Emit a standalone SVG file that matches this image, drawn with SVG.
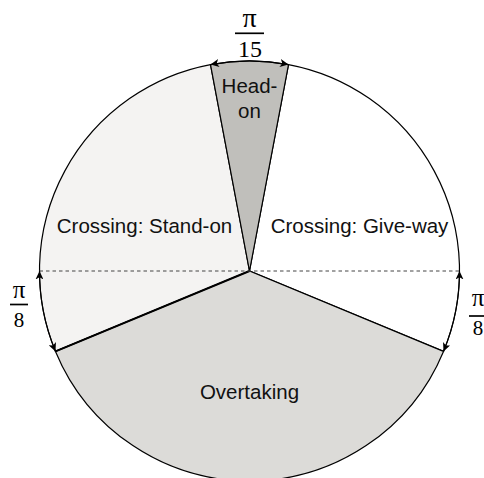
<svg xmlns="http://www.w3.org/2000/svg" width="484" height="478" viewBox="0 0 484 478">
  <defs>
    <marker id="ah" markerUnits="userSpaceOnUse" markerWidth="9" markerHeight="8" refX="8.5" refY="4" orient="auto-start-reverse">
      <path d="M0,0 L8.5,4 L0,8 L2.2,4 Z" fill="#000"/>
    </marker>
  </defs>
  <style>
    .sec { stroke: #000; stroke-width: 1.2; stroke-linejoin: miter; }
    .lbl { font-family: "Liberation Sans", Arial, sans-serif; font-size: 20.5px; fill: #111; text-anchor: middle; }
    .frac { font-family: "Liberation Serif", "Times New Roman", serif; fill: #000; text-anchor: middle; }
    .bar { stroke: #000; stroke-width: 1.7; }
    .arc { fill: none; stroke: #000; stroke-width: 1.1; }
  </style>
  <rect width="484" height="478" fill="#fff"/>

  <g id="give-way">
    <path class="sec" d="M249.5,271 L288.5,64.6 A210,210 0 0 1 443.5,351.4 Z" fill="#ffffff"/>
  </g>
  <g id="stand-on">
    <path class="sec" d="M249.5,271 L210.5,64.6 A210,210 0 0 0 55.5,351.4 Z" fill="#f4f3f2"/>
  </g>
  <g id="overtaking">
    <path class="sec" d="M249.5,271 L55.5,351.4 A210,210 0 0 0 443.5,351.4 Z" fill="#dcdbd8"/>
    <line x1="249.5" y1="271" x2="55.5" y2="351.4" stroke="#000" stroke-width="2"/>
  </g>
  <g id="head-on">
    <path class="sec" d="M249.5,271 L210.5,64.6 A210,210 0 0 1 288.5,64.6 Z" fill="#c0bfbb"/>
  </g>

  <g id="connectors">
    <line x1="39.5" y1="271" x2="459.5" y2="271" stroke="#444" stroke-width="1" stroke-dasharray="3.5,3"/>
    <path class="arc" d="M210.5,64.6 A210,210 0 0 1 288.5,64.6" marker-start="url(#ah)" marker-end="url(#ah)"/>
    <path class="arc" d="M39.5,271 A210,210 0 0 0 55.5,351.4" marker-start="url(#ah)" marker-end="url(#ah)"/>
    <path class="arc" d="M459.5,271 A210,210 0 0 1 443.5,351.4" marker-start="url(#ah)" marker-end="url(#ah)"/>
  </g>

  <g id="labels">
    <text class="lbl" x="249.5" y="92.5">Head-</text>
    <text class="lbl" x="249.5" y="118">on</text>
    <text class="lbl" x="144.5" y="232.5">Crossing: Stand-on</text>
    <text class="lbl" x="359.5" y="232.5">Crossing: Give-way</text>
    <text class="lbl" x="249.5" y="399">Overtaking</text>
  </g>

  <g id="frac-top">
    <text class="frac" x="249.5" y="27" font-size="28">π</text>
    <line class="bar" x1="235" y1="33.3" x2="264" y2="33.3"/>
    <text class="frac" x="250" y="56.7" font-size="24">15</text>
  </g>
  <g id="frac-left">
    <text class="frac" x="19" y="298" font-size="25">π</text>
    <line class="bar" x1="10" y1="304.5" x2="28" y2="304.5"/>
    <text class="frac" x="19" y="326.7" font-size="21">8</text>
  </g>
  <g id="frac-right">
    <text class="frac" x="478" y="306" font-size="25">π</text>
    <line class="bar" x1="469" y1="316" x2="487" y2="316"/>
    <text class="frac" x="478" y="335" font-size="21">8</text>
  </g>
</svg>
